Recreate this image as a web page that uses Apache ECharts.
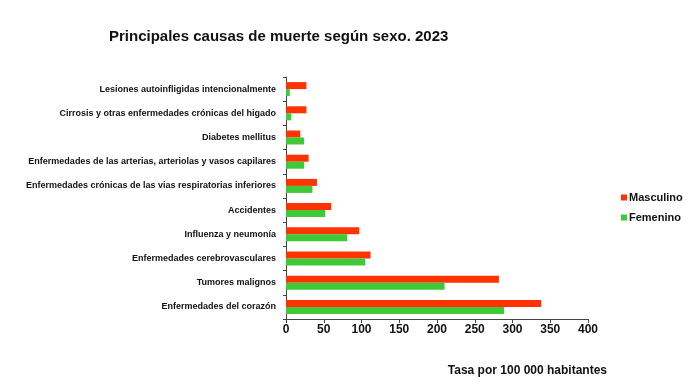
<!DOCTYPE html>
<html>
<head>
<meta charset="utf-8">
<script src="https://cdn.jsdelivr.net/npm/echarts@6/dist/echarts.min.js"></script>
<style>html,body{margin:0;padding:0;background:#fff}#c{width:700px;height:387px}</style>
</head>
<body>
<div id="c"></div>
<script>
var categories = [
  'Enfermedades del corazón',
  'Tumores malignos',
  'Enfermedades cerebrovasculares',
  'Influenza y neumonía',
  'Accidentes',
  'Enfermedades crónicas de las vias respiratorias inferiores',
  'Enfermedades de las arterias, arteriolas y vasos capilares',
  'Diabetes mellitus',
  'Cirrosis y otras enfermedades crónicas del higado',
  'Lesiones autoinfligidas intencionalmente'
];
var masculino = [338, 282, 112, 97, 60, 41, 30, 19, 27, 27];
var femenino = [289, 210, 105, 81, 52, 35, 24, 24, 7, 5];
var xTicks = { min: 0, max: 400, interval: 50 };

var FONT = 'Liberation Sans, Arial, sans-serif';
var chart = echarts.init(document.getElementById('c'));
chart.setOption({
  animation: false,
  backgroundColor: '#ffffff',
  title: {
    text: 'Principales causas de muerte según sexo. 2023',
    left: 104, top: 24,
    textStyle: { fontFamily: FONT, fontSize: 15, fontWeight: 'bold', color: '#111' }
  },
  legend: {
    orient: 'vertical', left: 616, top: 187,
    itemWidth: 6, itemHeight: 6, itemGap: 9,
    icon: 'rect',
    data: ['Masculino', 'Femenino'],
    textStyle: { fontFamily: FONT, fontSize: 11, fontWeight: 'bold', color: '#111', padding: [0,0,0,-3] }
  },
  grid: { left: 286, right: 112, top: 77, bottom: 68, containLabel: false, outerBoundsMode: 'none' },
  xAxis: {
    type: 'value', min: xTicks.min, max: xTicks.max, interval: xTicks.interval,
    name: 'Tasa por 100 000 habitantes', nameLocation: 'end', nameGap: 19,
    nameTextStyle: { fontFamily: FONT, fontSize: 12, fontWeight: 'bold', color: '#111', align: 'right', verticalAlign: 'top', padding: [46, 0, 0, 0] },
    axisLine: { show: true, lineStyle: { color: '#444', width: 1 } },
    axisTick: { show: true, length: 4, lineStyle: { color: '#444' } },
    splitLine: { show: false },
    axisLabel: { fontFamily: FONT, fontSize: 12, fontWeight: 'bold', color: '#111', margin: 5 }
  },
  yAxis: {
    type: 'category', data: categories,
    axisLine: { show: true, lineStyle: { color: '#444', width: 1 } },
    axisTick: { show: true, length: 3, lineStyle: { color: '#444' } },
    axisLabel: { fontFamily: FONT, fontSize: 9, fontWeight: 'bold', color: '#111', margin: 10 }
  },
  series: [
    { name: 'Masculino', type: 'bar', data: masculino, barWidth: 7, barGap: '0%', itemStyle: { color: '#ff3300' } },
    { name: 'Femenino', type: 'bar', data: femenino, barWidth: 7, barGap: '0%', itemStyle: { color: '#3fc837' } }
  ]
});
</script>
</body>
</html>
